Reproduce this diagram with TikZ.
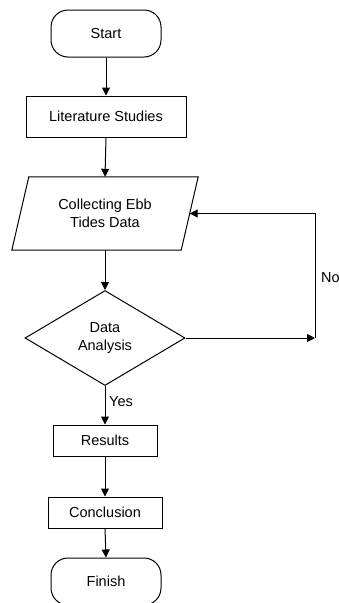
\documentclass[tikz,border=0pt]{standalone}
\usepackage{fontspec}
\setmainfont{Liberation Sans}
\usetikzlibrary{arrows.meta,shapes.geometric}
\begin{document}
\begin{tikzpicture}[x=1pt,y=-1pt,
  every node/.style={font=\fontsize{14.5}{17.5}\selectfont, align=center, inner sep=0pt},
  box/.style={draw, line width=1pt, rectangle},
  term/.style={draw, line width=1pt, rectangle, rounded corners=17pt, minimum width=110pt, minimum height=47pt},
  decision/.style={draw, line width=1pt, diamond, minimum width=160pt, minimum height=95pt},
  conn/.style={line width=1pt, -{Triangle[length=8pt,width=8pt]}},
  lbl/.style={anchor=west}]
\useasboundingbox (0,0) rectangle (339,603);
\node[term] (start) at (106,33.5) {Start};
\node[box, minimum width=160pt, minimum height=41pt] (lit) at (106,116.5) {Literature Studies};
\node[minimum width=169pt, minimum height=73pt] (col) at (105,213.5) {Collecting Ebb\\Tides Data};
\draw[line width=1pt] ([xshift=8.5pt]col.north west) -- ([xshift=8.5pt]col.north east)
  -- ([xshift=-8.5pt]col.south east) -- ([xshift=-8.5pt]col.south west) -- cycle;
\node[decision] (dec) at (105,338) {Data\\Analysis};
\node[box, minimum width=104pt, minimum height=31pt] (res) at (105,440.5) {Results};
\node[box, minimum width=114pt, minimum height=31pt] (con) at (105,512.5) {Conclusion};
\node[term] (fin) at (106,581.5) {Finish};
\coordinate (noc) at (315,338);
\draw[conn] (start.south) -- (lit.north);
\draw[conn] (lit.south) -- (col.north);
\draw[conn] (col.south) -- (dec.north);
\draw[conn] (dec.east) -- (noc);
\draw[conn] (noc) |- (col.east);
\node[lbl] (no) at (321,278) {No};
\draw[conn] (dec.south) -- (res.north);
\node[lbl] (yes) at (109,402) {Yes};
\draw[conn] (res.south) -- (con.north);
\draw[conn] (con.south) -- (fin.north);
\end{tikzpicture}
\end{document}
